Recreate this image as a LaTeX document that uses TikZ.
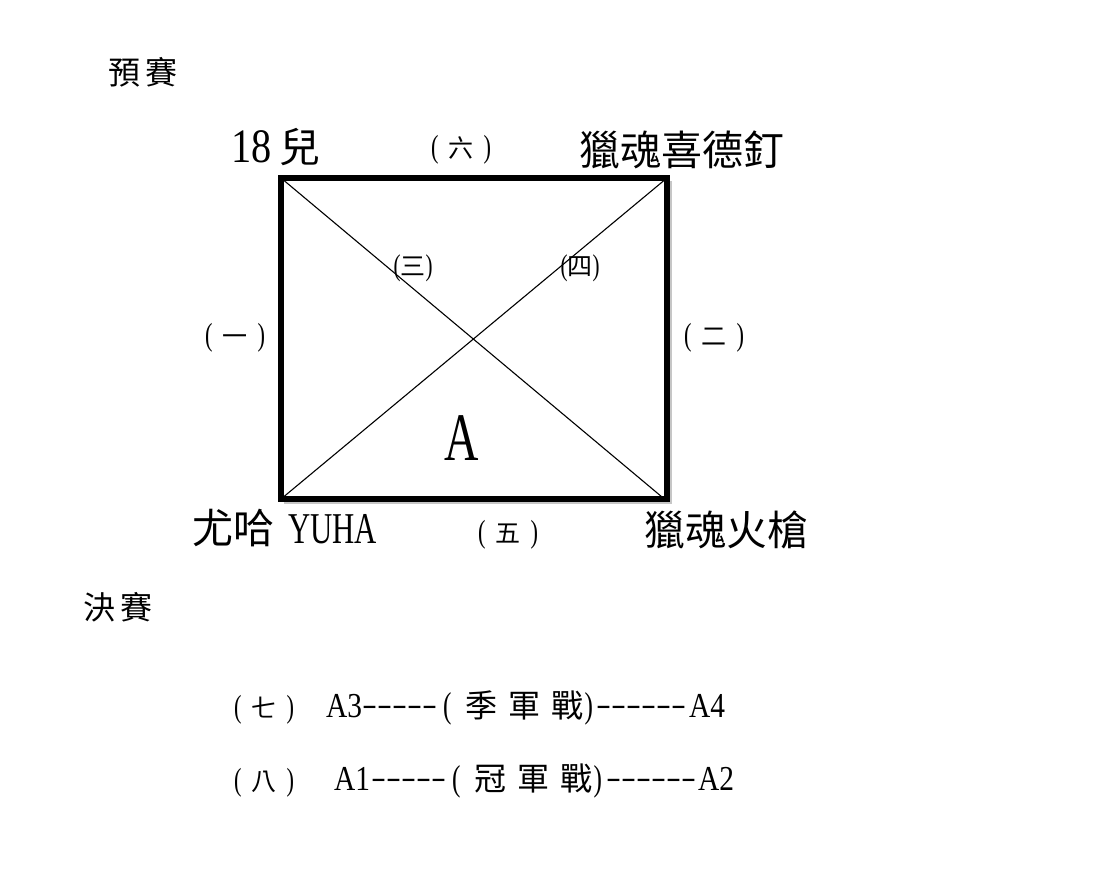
\documentclass[tikz,border=0pt]{standalone}
\usepackage{fontspec}
\setmainfont{Liberation Serif}[FakeStretch=0.7]
\newfontfamily\latw{Liberation Serif}[FakeStretch=0.84]
\newfontfamily\cjk{Noto Sans CJK TC}
\newfontfamily\dashfont{Liberation Serif}[FakeStretch=1.5]
\usepackage{tikz}
\usetikzlibrary{positioning, calc}
\newcommand{\fs}[1]{\fontsize{#1}{#1}\selectfont}
% round number in wide brackets
\newcommand{\rnd}[1]{{\fs{32}(}\hspace{10pt}{\cjk\fs{25}#1}\hspace{10pt}{\fs{32})}}
% round number in tight brackets
\newcommand{\rndt}[1]{{\fs{30}(}{\cjk\fs{25}#1}{\fs{30})}}
\tikzset{
  team/.style={inner sep=0pt, font=\cjk\fs{41}},
  round/.style={inner sep=0pt},
  stage/.style={inner sep=0pt, font=\cjk\fs{32}},
  final/.style={inner sep=0pt, anchor=base west},
}

\begin{document}
\begin{tikzpicture}[x=1pt, y=-1pt]
\useasboundingbox[fill=white] (0,0) rectangle (1111,893);

% Corners of group A
\coordinate (tl) at (281,178);
\coordinate (tr) at (667,178);
\coordinate (bl) at (281,499);
\coordinate (br) at (667,499);

% Shadow and frame
\draw[gray!45, line width=2pt] ($(tr)+(4,3)$) -- ($(br)+(4,4)$) -- ($(bl)+(3,4)$);
\draw[line width=5.5pt] (tl) rectangle (br);

% Diagonals
\draw[line width=1.1pt] (tl) -- ($(br)+(-5,-2)$);
\draw[line width=1.1pt] (bl) -- (tr);

% Stage titles
\node[stage] (prelim) at (143,72) {預\hspace{6pt}賽};
\node[stage] (finals) at (118,607) {決\hspace{6pt}賽};

% Teams
\node[inner sep=0pt, anchor=base west] (t18) at (231,163) {\latw\fs{48}18\hspace{8pt}{\cjk\fs{41}兒}};
\node[team] (tXide) at (682,150) {獵魂喜德釘};
\node[inner sep=0pt, anchor=base west] (tYuha) at (192,543) {{\cjk\fs{41}尤哈}\hspace{14pt}\fs{44}YUHA};
\node[team] (tHuo) at (726,530) {獵魂火槍};

% Group label
\node[inner sep=0pt, font=\fs{68}] (grpA) at (462,438) {A};

% Rounds
\node[round] (r6) at (461,150) {\rnd{六}};
\node[round] (r1) at (235,338) {\rnd{一}};
\node[round] (r2) at (714,338) {\rnd{二}};
\node[round] (r5) at (508,535) {\rnd{五}};
\node[round] (r3) at (413,268) {\rndt{三}};
\node[round] (r4) at (580,268) {\rndt{四}};

% Final matches
\foreach \ln/\yb/\r/\pa/\mt/\pb/\xa/\xd/\xm/\xe/\xb in {
    7/717/七/A3/{季\hspace{11pt}軍\hspace{11pt}戰}/A4/326/362/443/596/689,
    8/790/八/A1/{冠\hspace{11pt}軍\hspace{11pt}戰}/A2/334/371/452/606/698} {
  \node[final] (m\ln r) at (234,\yb) {\rnd{\r}};
  \node[final, font=\latw\fs{35}] (m\ln a) at (\xa,\yb) {\pa};
  \node[final, font=\dashfont\fs{30}] (m\ln d) at (\xd,\yb-3) {-----};
  \node[final, font=\fs{36}] (m\ln m) at (\xm,\yb) {(\hspace{14pt}{\cjk\fs{32}\mt}\hspace{1pt})};
  \node[final, font=\dashfont\fs{30}] (m\ln e) at (\xe,\yb-3) {------};
  \node[final, font=\latw\fs{35}] (m\ln b) at (\xb,\yb) {\pb};
}

\end{tikzpicture}
\end{document}
